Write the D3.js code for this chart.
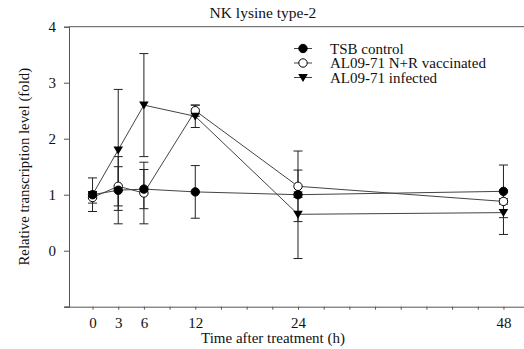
<!DOCTYPE html>
<html>
<head>
<meta charset="utf-8">
<script src="https://cdn.jsdelivr.net/npm/d3@7"></script>
<style>
  body { margin: 0; background: #fff; }
  text { font-family: "Liberation Serif", "DejaVu Serif", serif; fill: #111; }
</style>
</head>
<body>
<div id="plot"></div>
<script>
// Data
const times = [0, 3, 6, 12, 24, 48];
const tsbMean = [1.0, 1.08, 1.1, 1.05, 1.0, 1.06];
const tsbErr = [0.05, 0.6, 0.35, 0.47, 0.05, 0.47];
const vacMean = [0.95, 1.15, 1.03, 2.5, 1.15, 0.88];
const vacErr = [0.1, 0.35, 0.55, 0.1, 0.63, 0.05];
const infMean = [1.0, 1.8, 2.6, 2.4, 0.65, 0.68];
const infErr = [0.3, 1.08, 0.92, 0.2, 0.79, 0.39];
const xTickLabels = [0, 3, 6, 12, 24, 48];
const yTickLabels = [0, 1, 2, 3, 4];
const seriesNames = ["TSB control", "AL09-71 N+R vaccinated", "AL09-71 infected"];

const width = 524;
const height = 349;

const svg = d3.select("#plot")
    .append("svg")
    .attr("width", width)
    .attr("height", height);

const xScale = d3.scaleLinear()
    .domain([-2.75, 50.4])
    .range([69, 524]);

const yScale = d3.scaleLinear()
    .domain([-1, 4])
    .range([306.7, 26.7]);

const series = [
    { name: seriesNames[0], mean: tsbMean, err: tsbErr, shape: "filled" },
    { name: seriesNames[1], mean: vacMean, err: vacErr, shape: "open" },
    { name: seriesNames[2], mean: infMean, err: infErr, shape: "tri" }
].map((s) => ({
    ...s,
    points: times.map((t, i) => ({ t: t, v: s.mean[i], e: s.err[i] }))
}));

const axisColor = "#555";

// Axes
const xAxis = d3.axisBottom(xScale)
    .tickValues(d3.range(0, 49, 3))
    .tickSize(3)
    .tickFormat((d) => xTickLabels.includes(d) ? d : "");

const gx = svg.append("g")
    .attr("transform", `translate(0,${yScale(-1)})`)
    .call(xAxis);
gx.select(".domain").attr("stroke", axisColor).attr("d", `M65,0.5H524`);
gx.selectAll(".tick line").attr("stroke", axisColor);
gx.selectAll(".tick text").attr("y", 8).attr("dy", "0.9em").style("font-size", "15px");

const yAxis = d3.axisLeft(yScale)
    .tickValues(d3.range(-1, 5))
    .tickSize(5)
    .tickFormat((d) => yTickLabels.includes(d) ? d : "");

const gy = svg.append("g")
    .attr("transform", `translate(${xScale(-2.75)},0)`)
    .call(yAxis);
gy.select(".domain").attr("stroke", axisColor);
gy.selectAll(".tick line").attr("stroke", axisColor);
gy.selectAll(".tick text").attr("dx", "-5").style("font-size", "15px");

// top frame line
svg.append("line")
    .attr("x1", xScale(-2.75))
    .attr("x2", width)
    .attr("y1", yScale(4))
    .attr("y2", yScale(4))
    .attr("stroke", axisColor);

// Titles
svg.append("text")
    .attr("x", 263)
    .attr("y", 18)
    .attr("text-anchor", "middle")
    .style("font-size", "15.5px")
    .text("NK lysine type-2");

svg.append("text")
    .attr("x", 273)
    .attr("y", 343)
    .attr("text-anchor", "middle")
    .style("font-size", "15px")
    .text("Time after treatment (h)");

svg.append("text")
    .attr("transform", "rotate(-90)")
    .attr("x", -yScale(1.5))
    .attr("y", 29)
    .attr("text-anchor", "middle")
    .style("font-size", "14.8px")
    .text("Relative transcription level (fold)");

// Error bars
const capW = 4.5;
series.forEach((s) => {
    const g = svg.append("g").attr("stroke", "#222").attr("stroke-width", 1);
    g.selectAll("line.v")
        .data(s.points)
        .join("line")
        .attr("x1", (d) => xScale(d.t))
        .attr("x2", (d) => xScale(d.t))
        .attr("y1", (d) => yScale(d.v - d.e))
        .attr("y2", (d) => yScale(d.v + d.e));
    [-1, 1].forEach((sign) => {
        g.selectAll(null)
            .data(s.points)
            .join("line")
            .attr("x1", (d) => xScale(d.t) - capW)
            .attr("x2", (d) => xScale(d.t) + capW)
            .attr("y1", (d) => yScale(d.v + sign * d.e))
            .attr("y2", (d) => yScale(d.v + sign * d.e));
    });
});

// Lines
const line = d3.line()
    .x((d) => xScale(d.t))
    .y((d) => yScale(d.v));

series.forEach((s) => {
    svg.append("path")
        .datum(s.points)
        .attr("fill", "none")
        .attr("stroke", "#444")
        .attr("stroke-width", 1)
        .attr("d", line);
});

// Markers
function drawMarker(g, shape, x, y) {
    if (shape === "tri") {
        g.append("path")
            .attr("d", `M${x - 4.8},${y - 3.5}L${x + 4.8},${y - 3.5}L${x},${y + 4.5}Z`)
            .attr("fill", "#000");
    } else {
        g.append("circle")
            .attr("cx", x)
            .attr("cy", y)
            .attr("r", 4.2)
            .attr("fill", shape === "filled" ? "#000" : "#fff")
            .attr("stroke", "#000")
            .attr("stroke-width", 1);
    }
}

[series[1], series[2], series[0]].forEach((s) => {
    const g = svg.append("g");
    s.points.forEach((d) => drawMarker(g, s.shape, xScale(d.t), yScale(d.v)));
});

// Legend
const legend = svg.append("g");
series.forEach((s, i) => {
    const y = 48.5 + i * 14.5;
    legend.append("line")
        .attr("x1", 294)
        .attr("x2", 312)
        .attr("y1", y)
        .attr("y2", y)
        .attr("stroke", "#444");
    drawMarker(legend, s.shape, 303, y);
    legend.append("text")
        .attr("x", 330)
        .attr("y", y + 5)
        .style("font-size", "15px")
        .text(s.name);
});
</script>
</body>
</html>
